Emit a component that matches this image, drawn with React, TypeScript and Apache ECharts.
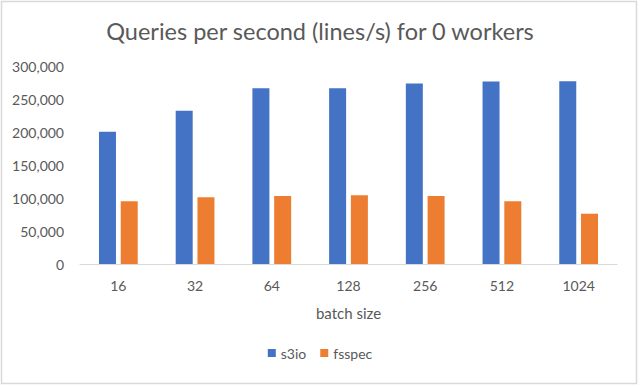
import React, { useEffect, useRef } from "react";
import * as echarts from "echarts";

const categories = ["16", "32", "64", "128", "256", "512", "1024"];
const s3io = [200300, 232300, 266300, 266300, 273500, 276500, 277000];
const fsspec = [95100, 101200, 103200, 104300, 103200, 95100, 76200];
const yTicks = { min: 0, max: 300000, interval: 50000 };

export default function App() {
  const ref = useRef<HTMLDivElement>(null);
  useEffect(() => {
    const chart = echarts.init(ref.current!, null, { renderer: "svg" });
    const font = "Lato, 'Open Sans', sans-serif";
    chart.setOption({
      animation: false,
      backgroundColor: "#ffffff",
      title: {
        text: "Queries per second (lines/s) for 0 workers",
        left: "center",
        top: 14,
        textStyle: { fontFamily: font, fontSize: 23.5, fontWeight: "normal", color: "#595959" },
      },
      graphic: [
        {
          type: "rect",
          shape: { x: 1.5, y: 1.5, width: 635, height: 382 },
          style: { fill: "none", stroke: "#d9d9d9", lineWidth: 1.5 },
          silent: true,
        },
      ],
      legend: {
        bottom: 22,
        left: "center",
        itemWidth: 8,
        itemHeight: 8,
        itemGap: 14,
        icon: "rect",
        textStyle: { fontFamily: font, fontSize: 14, color: "#595959" },
        data: ["s3io", "fsspec"],
      },
      grid: { left: 80, right: 23, top: 66, bottom: 123, containLabel: false },
      xAxis: {
        type: "category",
        data: categories,
        name: "batch size",
        nameLocation: "middle",
        nameGap: 41,
        nameTextStyle: { fontFamily: font, fontSize: 15, color: "#595959" },
        axisLine: { lineStyle: { color: "#d9d9d9" } },
        axisTick: { show: false },
        axisLabel: { fontFamily: font, fontSize: 14, color: "#595959", margin: 14 },
      },
      yAxis: {
        type: "value",
        min: yTicks.min,
        max: yTicks.max,
        interval: yTicks.interval,
        axisLine: { show: false },
        axisTick: { show: false },
        splitLine: { show: false },
        axisLabel: {
          fontFamily: font,
          fontSize: 14,
          color: "#595959",
          margin: 16,
          formatter: (v: number) => v.toLocaleString("en-US"),
        },
      },
      series: [
        {
          name: "s3io",
          type: "bar",
          data: s3io,
          barWidth: 17,
          barGap: "28%",
          itemStyle: { color: "#4472c4" },
        },
        {
          name: "fsspec",
          type: "bar",
          data: fsspec,
          barWidth: 17,
          itemStyle: { color: "#ed7d31" },
        },
      ],
    });
    return () => chart.dispose();
  }, []);
  return (
    <div
      ref={ref}
      style={{ position: "fixed", left: 0, top: 0, width: 640, height: 387 }}
    />
  );
}
